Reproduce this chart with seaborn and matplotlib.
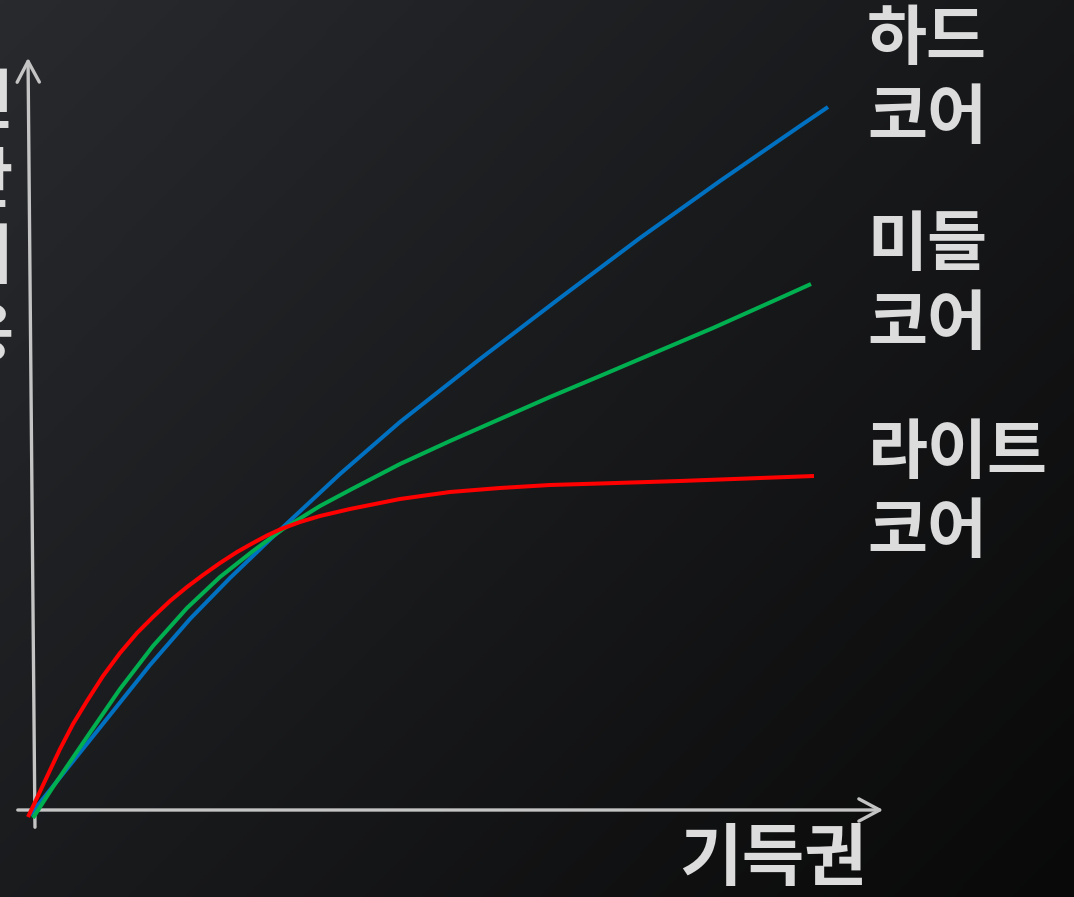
import numpy as np
import pandas as pd
import matplotlib
matplotlib.use("Agg")
import matplotlib.pyplot as plt
import seaborn as sns

# values (x: 기득권, y: unlabeled axis), arbitrary units
hard_x = [-0.3, 3.7, 7.7, 11.7, 15.7, 19.7, 24.8, 30.7, 36.7, 44.7, 52.7, 60.7, 68.7, 76.7, 79.5]
hard_y = [-0.5, 4.5, 9.5, 14.5, 19.1, 23.2, 28.1, 33.6, 38.8, 45.1, 51.2, 57.2, 62.9, 68.4, 70.3]

middle_x = [0.0, 2.0, 5.4, 8.7, 12.0, 15.4, 18.7, 22.0, 25.0, 28.7, 31.7, 36.7, 41.7, 46.7, 51.7, 56.7, 61.4, 68.0, 74.7, 77.8]
middle_y = [-0.8, 2.3, 7.3, 12.1, 16.4, 20.2, 23.3, 25.9, 28.1, 30.4, 32.0, 34.6, 36.9, 39.1, 41.3, 43.4, 45.4, 48.2, 51.2, 52.6]

light_x = [-0.5, 1.1, 2.7, 4.0, 5.4, 7.0, 8.7, 10.4, 12.0, 13.7, 15.4, 17.0, 18.7, 20.4, 22.0, 23.4, 24.8,
           26.7, 28.7, 31.7, 36.7, 41.7, 46.7, 51.7, 56.7, 64.7, 78.1]
light_y = [-0.7, 2.7, 6.1, 8.6, 10.9, 13.4, 15.7, 17.7, 19.3, 20.9, 22.3, 23.5, 24.7, 25.8, 26.7, 27.45, 28.1,
           28.8, 29.4, 30.1, 31.1, 31.8, 32.2, 32.5, 32.65, 32.9, 33.4]

series_names = ["하드\n코어", "미들\n코어", "라이트\n코어"]
series_colors = ["#0070c0", "#00b050", "#ff0000"]
x_label = "기득권"
y_label = "인간비용"

W, H = 1074, 897
fig = plt.figure(figsize=(W / 100, H / 100), dpi=100)
ax = fig.add_axes([0, 0, 1, 1])

# pixel -> data: x = (px - 33) / 10, y = (810 - py) / 10
x0, x1 = (0 - 33) / 10, (W - 33) / 10
y0, y1 = (810 - H) / 10, (810 - 0) / 10
ax.set_xlim(x0, x1)
ax.set_ylim(y0, y1)
ax.axis("off")

# dark diagonal gradient background
u = np.linspace(0, 1, 300)
v = np.linspace(0, 1, 250)
U, V = np.meshgrid(u, v)
t = np.clip(0.55 * U + 0.45 * V, 0, 1)
c0 = np.array([40, 42, 46]) / 255
c1 = np.array([9, 9, 9]) / 255
img = c0[None, None, :] * (1 - t[..., None]) + c1[None, None, :] * t[..., None]
ax.imshow(img, extent=[x0, x1, y0, y1], aspect="auto", zorder=0, origin="upper")

# axes with open arrow heads
axis_col = "#c4c4c4"
arrow = dict(arrowstyle="->, head_length=0.75, head_width=0.4", color=axis_col, lw=2.4, mutation_scale=20)
ax.annotate("", xy=((886 - 33) / 10, 0), xytext=((15 - 33) / 10, 0), arrowprops=arrow, zorder=2)
ax.annotate("", xy=((28 - 33) / 10, (810 - 55) / 10), xytext=((35 - 33) / 10, (810 - 830) / 10),
            arrowprops=arrow, zorder=2)

frames = [
    pd.DataFrame({"x": hard_x, "y": hard_y}),
    pd.DataFrame({"x": middle_x, "y": middle_y}),
    pd.DataFrame({"x": light_x, "y": light_y}),
]
for df, col in zip(frames, series_colors):
    sns.lineplot(data=df, x="x", y="y", ax=ax, color=col, lw=2.9, sort=False, estimator=None, zorder=3)
for line in ax.lines:
    line.set_solid_joinstyle("round")
    line.set_solid_capstyle("butt")

font = dict(family=["Noto Sans CJK KR", "DejaVu Sans"], fontweight="bold", color="#dcdcdc")
label_pos = [(867, 79), (867, 285), (867, 493)]
for name, (px, py) in zip(series_names, label_pos):
    fig.text(px / W, 1 - py / H, name, ha="left", va="center", linespacing=1.22, fontsize=47, **font)

fig.text(679 / W, 1 - 860 / H, x_label, ha="left", va="center", fontsize=49, **font)
fig.text(-17 / W, 1 - 220 / H, "\n".join(y_label), ha="center", va="center", linespacing=1.2,
         fontsize=47, **font)

fig.savefig("out.png", dpi=100)
